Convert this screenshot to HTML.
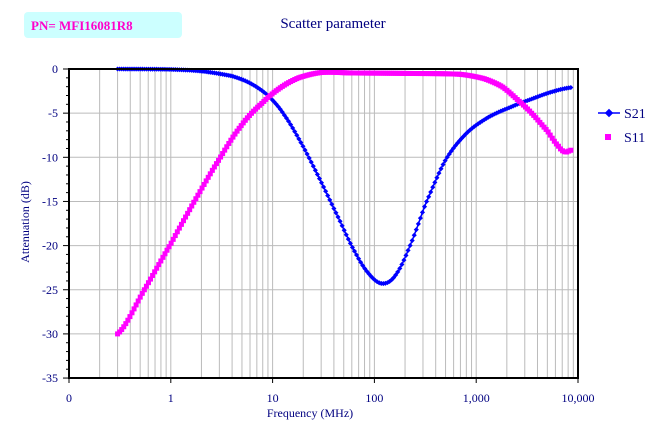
<!DOCTYPE html><html><head><style>body{margin:0;background:#fff}svg{display:block}</style></head><body>
<svg id="s" width="666" height="430" xmlns="http://www.w3.org/2000/svg" font-family="Liberation Serif, serif">
<rect x="24" y="12" width="158" height="26" rx="4" fill="#ccffff"/>
<text x="31" y="30" font-size="13" fill="#ff00cc" font-weight="bold">PN= MFI16081R8</text>
<text x="333" y="28" font-size="15" fill="#000080" text-anchor="middle">Scatter parameter</text>
<g id="grid" stroke="#bbb" stroke-width="1"></g>
<g id="ser"></g>
<rect x="69" y="69" width="509" height="309" fill="none" stroke="#000" stroke-width="2"/>
<g id="ax" font-size="12" fill="#000080"></g>
<text x="310" y="417" font-size="12" fill="#000080" text-anchor="middle">Frequency (MHz)</text>
<text transform="translate(29,222) rotate(-90)" font-size="12" fill="#000080" text-anchor="middle">Attenuation (dB)</text>
<line x1="598" y1="113" x2="620" y2="113" stroke="#0000ff" stroke-width="1.5"/>
<rect x="606" y="110" width="6" height="6" fill="#0000ff" transform="rotate(45 609 113)"/>
<text x="624" y="118" font-size="14" fill="#000080">S21</text>
<rect x="605" y="134" width="6" height="6" fill="#ff00ff"/>
<text x="624" y="142" font-size="14" fill="#000080">S11</text>
</svg>
<script>
var NS="http://www.w3.org/2000/svg";
function X(f){return 69+101.8*(Math.log10(f)+1);}
function Y(d){return 69-d*8.83;}
function el(t,a,p){var e=document.createElementNS(NS,t);for(var k in a)e.setAttribute(k,a[k]);p.appendChild(e);return e;}
var g=document.getElementById('grid'),ax=document.getElementById('ax'),se=document.getElementById('ser');
for(var d=-1;d<4;d++)for(var m=1;m<10;m++){var f=Math.pow(10,d)*m;if(f<=0.1||f>=10000)continue;var x=X(f);el('line',{x1:x,y1:69,x2:x,y2:378},g);}
for(var v=-5;v>-35;v-=5)el('line',{x1:69,y1:Y(v),x2:578,y2:Y(v)},g);
for(var v=0;v>=-35;v--){el('line',{x1:v%5==0?63:66,y1:Y(v),x2:69,y2:Y(v),stroke:'#000'},ax);}
for(var v=0;v>=-35;v-=5){var t=el('text',{x:58,y:Y(v)+4,'text-anchor':'end'},ax);t.textContent=String(v);}
var lb=['0','1','10','100','1,000','10,000'];
for(var i=0;i<6;i++){var t=el('text',{x:69+101.8*i,y:402,'text-anchor':'middle'},ax);t.textContent=lb[i];el('line',{x1:69+101.8*i,y1:378,x2:69+101.8*i,y2:383,stroke:'#000'},ax);}
function interp(P,f){var l=Math.log10(f),n=P.length;
 for(var i=0;i<n-1;i++){var a=Math.log10(P[i][0]),b=Math.log10(P[i+1][0]);if(l<=b||i==n-2){var t=Math.max(0,Math.min(1,(l-a)/(b-a)));
 var p0=P[Math.max(0,i-1)][1],p1=P[i][1],p2=P[i+1][1],p3=P[Math.min(n-1,i+2)][1];
 var t2=t*t,t3=t2*t;return 0.5*(2*p1+(-p0+p2)*t+(2*p0-5*p1+4*p2-p3)*t2+(-p0+3*p1-3*p2+p3)*t3);}}}
var S21=[[0.3,0],[1,-0.05],[2,-0.25],[4,-0.8],[6,-1.6],[9,-3],[13,-5.2],[20,-8.8],[30,-12.8],[45,-17],[65,-20.8],[90,-23.3],[120,-24.3],[160,-23.4],[220,-20.2],[320,-15.2],[500,-10.3],[800,-7.3],[1300,-5.5],[2200,-4.3],[3500,-3.4],[5500,-2.6],[8500,-2.1]];
var S11=[[0.3,-30],[0.55,-25],[1,-19.8],[1.7,-15],[3,-10.2],[5,-6.3],[8,-3.8],[12,-2.1],[18,-1],[30,-0.4],[60,-0.45],[200,-0.5],[700,-0.6],[1200,-1.1],[1800,-2],[2500,-3.4],[3500,-5],[5000,-7],[6500,-8.8],[7500,-9.4],[8500,-9.2]];
var pts=[];for(var i=0;i<=220;i++){var f=0.3*Math.pow(8500/0.3,i/220);pts.push([X(f),Y(interp(S21,f))]);}
el('polyline',{points:pts.map(p=>p[0].toFixed(1)+','+p[1].toFixed(1)).join(' '),fill:'none',stroke:'#0000ff','stroke-width':1.5},se);
pts.forEach(p=>el('rect',{x:p[0]-1.8,y:p[1]-1.8,width:3.6,height:3.6,fill:'#0000ff',transform:'rotate(45 '+p[0]+' '+p[1]+')'},se));
for(var i=0;i<=220;i++){var f=0.3*Math.pow(8500/0.3,i/220);var x=X(f),y=Y(interp(S11,f));el('rect',{x:x-2.5,y:y-2.5,width:5,height:5,fill:'#ff00ff'},se);}
</script>
</body></html>
